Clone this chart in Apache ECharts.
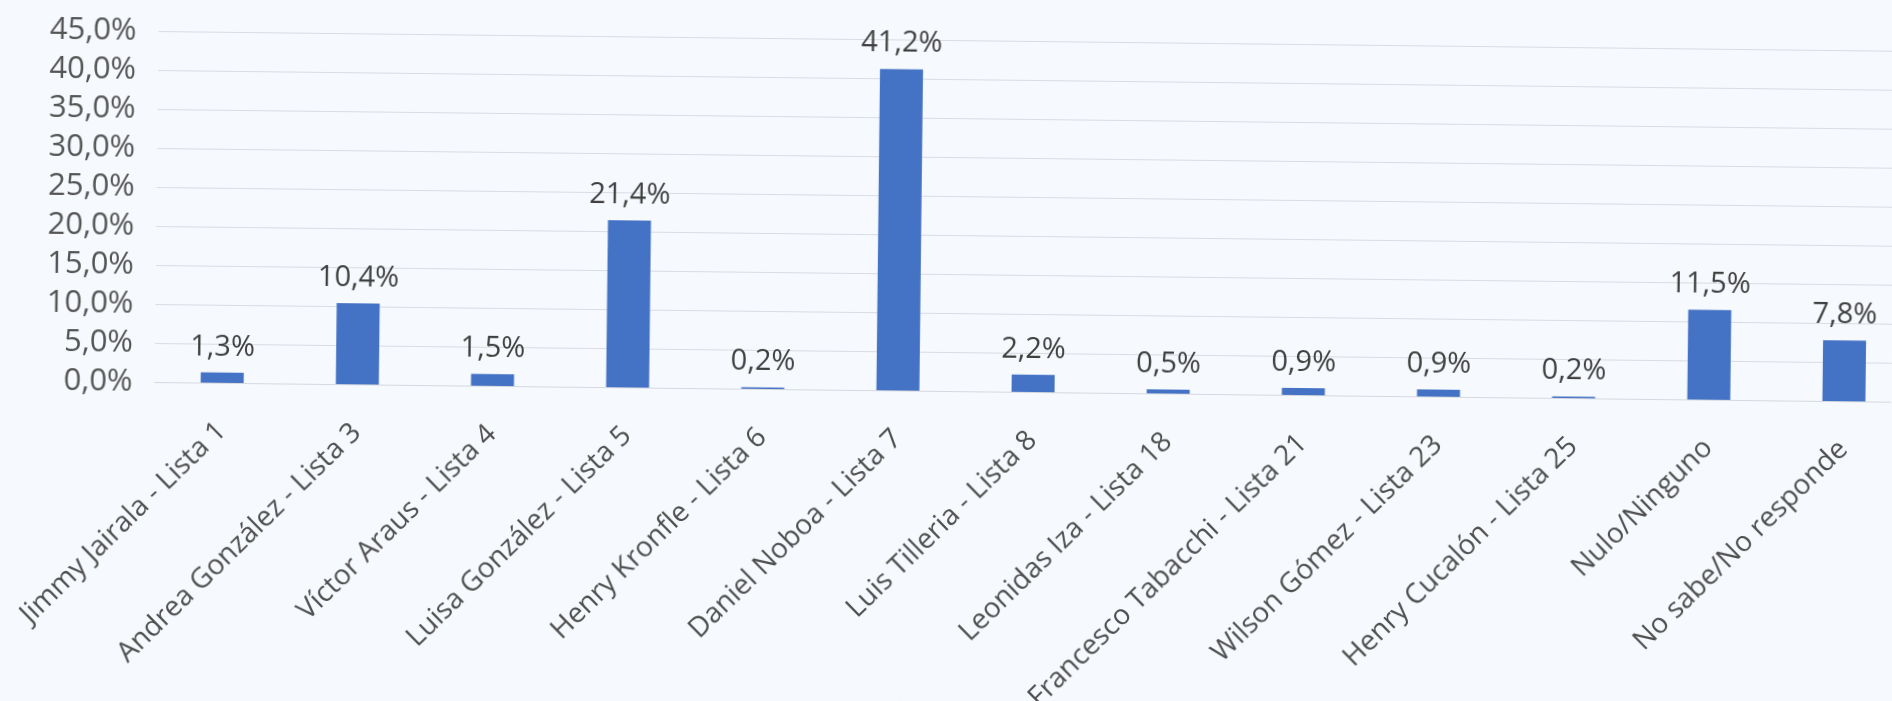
<!DOCTYPE html>
<html>
<head>
<meta charset="utf-8">
<script src="https://cdn.jsdelivr.net/npm/echarts@6/dist/echarts.min.js"></script>
<style>
  html, body { margin: 0; padding: 0; background: #F6F9FD; overflow: hidden; }
  #chart { width: 1892px; height: 701px; transform: rotate(0.65deg); transform-origin: 50% 50%; }
</style>
</head>
<body>
<div id="chart"></div>
<script>
const categories = [
  'Jimmy Jairala - Lista 1',
  'Andrea González - Lista 3',
  'Víctor Araus - Lista 4',
  'Luisa González - Lista 5',
  'Henry Kronfle - Lista 6',
  'Daniel Noboa - Lista 7',
  'Luis Tilleria - Lista 8',
  'Leonidas Iza - Lista 18',
  'Francesco Tabacchi - Lista 21',
  'Wilson Gómez - Lista 23',
  'Henry Cucalón - Lista 25',
  'Nulo/Ninguno',
  'No sabe/No responde'
];
const values = [1.3, 10.4, 1.5, 21.4, 0.2, 41.2, 2.2, 0.5, 0.9, 0.9, 0.2, 11.5, 7.8];
const yMin = 0, yMax = 45, yStep = 5;

const fmt = v => v.toFixed(1).replace('.', ',') + '%';

const chart = echarts.init(document.getElementById('chart'), null, { renderer: 'canvas' });
chart.setOption({
  backgroundColor: '#F6F9FD',
  animation: false,
  grid: { left: 155, right: -20, top: 40, bottom: 310, containLabel: false, outerBoundsMode: 'none' },
  xAxis: {
    type: 'category',
    data: categories,
    axisTick: { show: false },
    axisLine: { lineStyle: { color: '#D5D9DF', width: 1 } },
    axisLabel: {
      interval: 0, rotate: 45, margin: 44,
      fontFamily: 'Open Sans', fontSize: 28, color: '#4F4F4F'
    }
  },
  yAxis: {
    type: 'value', min: yMin, max: yMax, interval: yStep,
    axisLine: { show: false }, axisTick: { show: false },
    splitLine: { lineStyle: { color: '#D8DCE3', width: 1 } },
    axisLabel: {
      formatter: fmt, margin: 22,
      fontFamily: 'Open Sans', fontSize: 31, color: '#555555'
    }
  },
  series: [{
    type: 'bar',
    data: values,
    barWidth: 43,
    itemStyle: { color: '#4472C4' },
    label: {
      show: true, position: 'top', distance: 11,
      formatter: p => fmt(p.value),
      fontFamily: 'Open Sans', fontSize: 29, color: '#3F3F3F'
    }
  }]
});
</script>
</body>
</html>
